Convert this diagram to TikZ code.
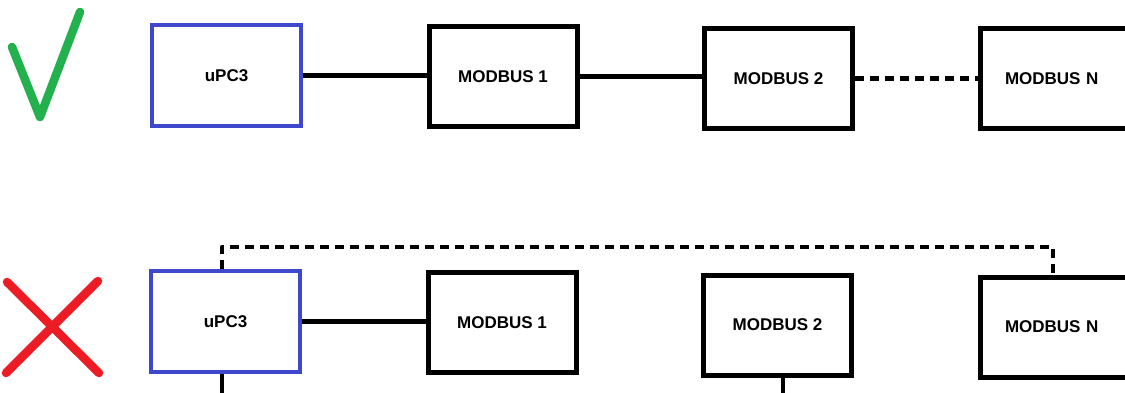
\documentclass[tikz,border=0pt]{standalone}
\usepackage{fontspec}
\setmainfont{Liberation Sans}
\definecolor{boxblue}{HTML}{3F48CC}
\definecolor{okgreen}{HTML}{22B14C}
\definecolor{nored}{HTML}{ED1C24}
\tikzset{
  unitbox/.style={draw=black, line width=5pt, rectangle, inner sep=0pt,
    minimum width=148pt, minimum height=100pt,
    font=\fontsize{17}{20}\selectfont\bfseries},
  ctrlbox/.style={unitbox, draw=boxblue, line width=4.5pt, minimum width=149pt, minimum height=101pt},
  lastbox/.style={unitbox, minimum width=150pt, text width=100pt, align=left},
  wire/.style={line width=4.5pt, black},
  dotwire/.style={line width=4.5pt, black, dash pattern=on 8.5pt off 6.5pt, line join=round},
  markline/.style={line width=8.5pt, line cap=round, line join=round}
}
\begin{document}
\begin{tikzpicture}[x=1pt, y=-1pt]
\clip (0,0) rectangle (1125,392);
\fill[white] (0,0) rectangle (1125,392);
% top row (correct)
\draw[markline, okgreen] (12,47) -- (40,117) -- (80,12);
\node[ctrlbox] (u1) at (226.5,75.5) {uPC3};
\node[unitbox] (m1) at (503,76.5) {MODBUS 1};
\node[unitbox] (m2) at (778.5,78.5) {MODBUS 2};
\node[lastbox] (mN) at (1055,78.5) {MODBUS N};
\draw[wire] (u1.east) -- (u1.east -| m1.west);
\draw[wire] (m1.east) -- (m1.east -| m2.west);
\draw[dotwire] (m2.east) -- (mN.west);
% bottom row (wrong)
\draw[markline, nored] (7,282) -- (99,373);
\draw[markline, nored] (98,281) -- (6,373);
\node[ctrlbox] (u2) at (225.5,321.5) {uPC3};
\node[unitbox] (m1b) at (502,322.5) {MODBUS 1};
\node[unitbox] (m2b) at (777.5,325) {MODBUS 2};
\node[lastbox] (mNb) at (1055,327) {MODBUS N};
\draw[wire] (u2.east) -- (u2.east -| m1b.west);
\coordinate (ta) at (222,247);
\coordinate (tb) at (1053,247);
\draw[dotwire] (u2.north -| ta) -- (ta) -- (tb) -- (mNb.north -| tb);
\coordinate (da) at (222,400);
\coordinate (db) at (783,400);
\draw[wire] (u2.south -| da) -- (da);
\draw[wire] (m2b.south -| db) -- (db);
\end{tikzpicture}
\end{document}
